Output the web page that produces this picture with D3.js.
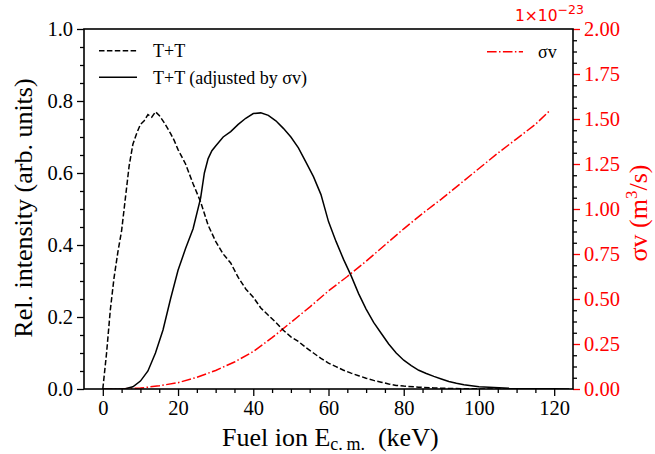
<!DOCTYPE html>
<html>
<head>
<meta charset="utf-8">
<script src="https://cdn.jsdelivr.net/npm/d3@7"></script>
<style>
  html, body { margin: 0; padding: 0; background: #fff; }
  svg { display: block; }
  text { font-family: "Liberation Serif", "Times New Roman", serif; }
  text.sans, text.sans tspan { font-family: "DejaVu Sans", sans-serif; }
</style>
</head>
<body>
<svg id="chart" width="655" height="454"></svg>
<script>
// Energy grid (keV) and T+T fuel-ion spectrum
const energyTT = [0, 1, 2, 3, 4, 5, 6, 7, 8, 9, 10, 11, 12, 13, 14, 15, 16, 17, 18, 19, 20,
  22, 24, 26, 28, 30, 32, 34, 36, 38, 40, 42, 44, 46, 48, 50, 52, 54, 56, 58, 60,
  62, 64, 66, 68, 70, 72, 74, 76, 78, 80, 84, 88, 92, 96, 100, 110, 120];
const intensityTT = [0, 0.1, 0.22, 0.31, 0.38, 0.44, 0.53, 0.62, 0.68, 0.71, 0.735, 0.745, 0.762, 0.755, 0.77, 0.76, 0.745, 0.728, 0.71, 0.69, 0.665,
  0.625, 0.57, 0.52, 0.455, 0.41, 0.375, 0.35, 0.31, 0.278, 0.255, 0.225, 0.205, 0.185, 0.163, 0.145, 0.132, 0.115, 0.1, 0.085, 0.072,
  0.062, 0.052, 0.044, 0.037, 0.03, 0.024, 0.019, 0.014, 0.01, 0.008, 0.005, 0.003, 0.0015, 0.0008, 0.0003, 0.0001, 0];

// Spectrum weighted by the reactivity
const energyAdj = [0, 4, 6, 8, 10, 12, 14, 16, 18, 20, 22, 24, 26, 27, 28, 29, 30, 32, 34, 36, 38, 40, 42, 44, 46, 48, 50,
  52, 54, 56, 58, 60, 62, 64, 66, 68, 70, 72, 74, 76, 78, 80, 82, 84, 86, 88, 90, 92, 94, 96, 98, 100,
  104, 108, 112, 116, 120, 124];
const intensityAdj = [0, 0, 0.001, 0.006, 0.022, 0.05, 0.1, 0.164, 0.25, 0.33, 0.39, 0.445, 0.53, 0.6, 0.64, 0.662, 0.675, 0.7, 0.715, 0.735, 0.752, 0.765, 0.767, 0.76, 0.745, 0.724, 0.7,
  0.67, 0.63, 0.59, 0.54, 0.465, 0.41, 0.36, 0.315, 0.265, 0.222, 0.185, 0.155, 0.125, 0.1, 0.08, 0.065, 0.052, 0.043, 0.035, 0.028, 0.021, 0.016, 0.012, 0.009, 0.006,
  0.004, 0.002, 0.001, 0.0007, 0.0004, 0.0002];

// Reactivity <sigma v> in units of 1e-23 m^3/s
const energySV = [0, 5, 10, 15, 20, 25, 30, 35, 40, 45, 50, 55, 60, 65, 70, 75, 80, 85, 90, 95, 100, 105, 110, 115, 119];
const sigmaV = [0, 0.0005, 0.005, 0.018, 0.035, 0.065, 0.103, 0.15, 0.208, 0.285, 0.37, 0.455, 0.545, 0.625, 0.71, 0.8, 0.89, 0.975, 1.055, 1.14, 1.225, 1.31, 1.39, 1.47, 1.55];

const xTicks = [0, 20, 40, 60, 80, 100, 120];
const yLeftTicks = [0, 0.2, 0.4, 0.6, 0.8, 1.0];
const yRightTicks = [0, 0.25, 0.5, 0.75, 1.0, 1.25, 1.5, 1.75, 2.0];

const svg = d3.select("#chart");
const M = { left: 84, right: 573, top: 29, bottom: 389 };

const x = d3.scaleLinear().domain([-5, 125]).range([M.left, M.right]);
const yL = d3.scaleLinear().domain([0, 1]).range([M.bottom, M.top]);
const yR = d3.scaleLinear().domain([0, 2]).range([M.bottom, M.top]);

const RED = "#ff0000";
const tickFont = 20.5;
const titleFont = 26;

svg.append("defs").append("clipPath").attr("id", "plotclip")
  .append("rect").attr("x", M.left).attr("y", M.top - 1)
  .attr("width", M.right - M.left).attr("height", M.bottom - M.top + 1);

const plot = svg.append("g").attr("clip-path", "url(#plotclip)");

const lineL = (xs, ys) => d3.line().x((d, i) => x(xs[i])).y((d, i) => yL(ys[i]))(ys);
const lineR = (xs, ys) => d3.line().x((d, i) => x(xs[i])).y((d, i) => yR(ys[i]))(ys);

plot.append("path").attr("d", lineR(energySV, sigmaV))
  .attr("fill", "none").attr("stroke", RED).attr("stroke-width", 1.5)
  .attr("stroke-dasharray", "9.6,2.4,1.5,2.4");

plot.append("path").attr("d", lineL(energyTT, intensityTT))
  .attr("fill", "none").attr("stroke", "#000").attr("stroke-width", 1.5)
  .attr("stroke-dasharray", "5.5,2.4");

plot.append("path").attr("d", lineL(energyAdj, intensityAdj))
  .attr("fill", "none").attr("stroke", "#000").attr("stroke-width", 1.5);

// Axes
svg.append("g").attr("transform", `translate(0,${M.bottom})`)
  .call(d3.axisBottom(x).tickValues(xTicks).tickFormat(d3.format("d")).tickSize(7).tickPadding(4));
const xMinor = d3.range(5, 120, 5).filter(v => v % 20 !== 0);
svg.append("g").attr("transform", `translate(0,${M.bottom})`)
  .call(d3.axisBottom(x).tickValues(xMinor).tickFormat("").tickSize(4));

svg.append("g").attr("transform", `translate(${M.left},0)`)
  .call(d3.axisLeft(yL).tickValues(yLeftTicks).tickFormat(d3.format(".1f")).tickSize(7).tickPadding(4));
const yLMinor = d3.range(0.05, 1, 0.05).filter(v => Math.abs(v * 5 - Math.round(v * 5)) > 1e-6);
svg.append("g").attr("transform", `translate(${M.left},0)`)
  .call(d3.axisLeft(yL).tickValues(yLMinor).tickFormat("").tickSize(4));

const gyr = svg.append("g").attr("transform", `translate(${M.right},0)`)
  .call(d3.axisRight(yR).tickValues(yRightTicks).tickFormat(d3.format(".2f")).tickSize(7).tickPadding(4));
const yRMinor = d3.range(0.0625, 2, 0.0625).filter(v => Math.abs(v * 4 - Math.round(v * 4)) > 1e-6);
svg.append("g").attr("transform", `translate(${M.right},0)`)
  .call(d3.axisRight(yR).tickValues(yRMinor).tickFormat("").tickSize(4));

svg.selectAll(".domain").remove();
svg.selectAll(".tick line").attr("stroke", "#000").attr("stroke-width", 1.3);
svg.selectAll(".tick text").attr("font-size", tickFont).attr("fill", "#000");
gyr.selectAll(".tick line").attr("stroke", RED);
gyr.selectAll(".tick text").attr("fill", RED);

// Frame
svg.append("rect").attr("x", M.left).attr("y", M.top)
  .attr("width", M.right - M.left).attr("height", M.bottom - M.top)
  .attr("fill", "none").attr("stroke", "#000").attr("stroke-width", 1.6);

// Axis titles
const xl = svg.append("text").attr("x", 222).attr("y", 446).attr("text-anchor", "start")
  .attr("font-size", titleFont).attr("fill", "#000");
xl.append("tspan").text("Fuel ion E");
xl.append("tspan").attr("font-size", 18).attr("dy", 4).text("c.\u2009m.");
xl.append("tspan").attr("dy", -4).text("\u2002(keV)");

svg.append("text").attr("transform", "translate(32,208) rotate(-90)")
  .attr("text-anchor", "middle").attr("font-size", titleFont).attr("fill", "#000")
  .text("Rel. intensity (arb. units)");

const yr = svg.append("text").attr("transform", "translate(647,213) rotate(-90)")
  .attr("text-anchor", "middle").attr("font-size", titleFont).attr("fill", RED);
yr.append("tspan").text("σv (m");
yr.append("tspan").attr("font-size", 17).attr("dy", -10).text("3");
yr.append("tspan").attr("dy", 10).text("/s)");

// Offset multiplier for the right axis
const off = svg.append("text").attr("class", "sans").attr("x", 515).attr("y", 21)
  .attr("font-size", 15.5).attr("fill", RED);
off.append("tspan").text("1×10");
off.append("tspan").attr("font-size", 12.5).attr("dy", -7).text("−23");

// Legends
const legL = svg.append("g");
legL.append("line").attr("x1", 99).attr("x2", 137).attr("y1", 50.7).attr("y2", 50.7)
  .attr("stroke", "#000").attr("stroke-width", 1.5).attr("stroke-dasharray", "5.5,2.4");
legL.append("text").attr("x", 153).attr("y", 57).attr("font-size", 18).text("T+T");
legL.append("line").attr("x1", 99).attr("x2", 137).attr("y1", 77.3).attr("y2", 77.3)
  .attr("stroke", "#000").attr("stroke-width", 1.5);
legL.append("text").attr("x", 153).attr("y", 83.5).attr("font-size", 18).text("T+T (adjusted by σv)");

const legR = svg.append("g");
legR.append("line").attr("x1", 487).attr("x2", 523).attr("y1", 51.7).attr("y2", 51.7)
  .attr("stroke", RED).attr("stroke-width", 1.5).attr("stroke-dasharray", "9.6,2.4,1.5,2.4");
legR.append("text").attr("x", 538).attr("y", 57.5).attr("font-size", 18).text("σv");
</script>
</body>
</html>
